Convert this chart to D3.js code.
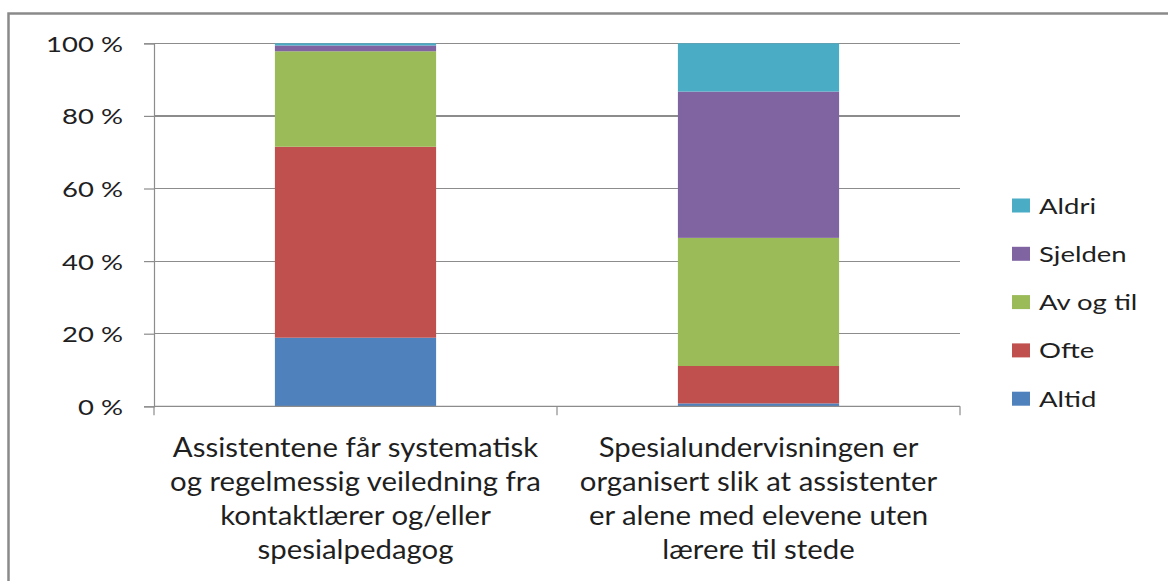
<!DOCTYPE html>
<html><head><meta charset="utf-8">
<script src="https://cdn.jsdelivr.net/npm/d3@7"></script>
<style>html,body{margin:0;padding:0;background:#fff;} svg{display:block;}</style>
</head><body>
<svg id="c" width="1168" height="581"></svg>
<script>
const categories = [
  ["Assistentene får systematisk", "og regelmessig  veiledning fra", "kontaktlærer og/eller", "spesialpedagog"],
  ["Spesialundervisningen er", "organisert slik at assistenter", "er alene med elevene uten", "lærere til stede"]
];
const seriesNames = ["Altid", "Ofte", "Av og til", "Sjelden", "Aldri"];
const seriesColors = ["#4F81BD", "#C0504D", "#9BBB59", "#8064A2", "#4BACC6"];
const altid   = [18.9, 0.8];
const ofte    = [52.6, 10.3];
const avOgTil = [26.3, 35.3];
const sjelden = [1.6, 40.3];
const aldri   = [0.6, 13.3];
const yTicks = [0, 20, 40, 60, 80, 100];
const yTickLabels = ["0 %", "20 %", "40 %", "60 %", "80 %", "100 %"];

const seriesValues = [altid, ofte, avOgTil, sjelden, aldri];
const table = categories.map((c, i) => {
  const row = {cat: i};
  seriesNames.forEach((s, j) => row[s] = seriesValues[j][i]);
  return row;
});

const svg = d3.select("#c");
const font = "Lato, 'Open Sans', sans-serif";
const textColor = "#1f1f1f";

// outer frame
svg.append("rect").attr("x", 8.5).attr("y", 13.5).attr("width", 1300).attr("height", 700)
  .attr("fill", "none").attr("stroke", "#8a8a8a").attr("stroke-width", 2.5);

const x = d3.scaleBand().domain(table.map(d => d.cat)).range([154, 960]).padding(0);
const y = d3.scaleLinear().domain([0, 100]).range([406.3, 43.3]);

// gridlines
svg.append("g").selectAll("line").data(yTicks.filter(t => t > 0)).join("line")
  .attr("x1", 154).attr("x2", 960).attr("y1", d => y(d)).attr("y2", d => y(d))
  .attr("stroke", "#8c8c8c").attr("stroke-width", 1.2).attr("shape-rendering", "crispEdges");

// y axis
const ys = 1.25;
const yAxis = d3.axisLeft(y).tickValues(yTicks).tickSize(10).tickPadding(20)
  .tickFormat((d, i) => yTickLabels[i]);
const gy = svg.append("g").attr("transform", "translate(154,0)").call(yAxis);
gy.select(".domain").attr("stroke", "#8c8c8c").attr("stroke-width", 1.2);
gy.selectAll(".tick line").attr("stroke", "#8c8c8c").attr("stroke-width", 1.2);
gy.selectAll(".tick text").attr("font-family", font).attr("font-size", 22).attr("fill", textColor)
  .attr("x", -31 / ys).attr("dy", "0.36em").attr("transform", `scale(${ys},1)`);

// stacked bars
const stack = d3.stack().keys(seriesNames)(table);
const bw = x.bandwidth() * 0.4;
svg.append("g").selectAll("g").data(stack).join("g")
  .attr("fill", (d, i) => seriesColors[i])
  .selectAll("rect").data(d => d).join("rect")
  .attr("x", d => x(d.data.cat) + (x.bandwidth() - bw) / 2)
  .attr("width", bw)
  .attr("y", d => y(d[1]))
  .attr("height", d => y(d[0]) - y(d[1]));

// x axis
const xAxisLine = svg.append("g");
xAxisLine.append("line").attr("x1", 154).attr("x2", 960).attr("y1", y(0)).attr("y2", y(0))
  .attr("stroke", "#8c8c8c").attr("stroke-width", 1.2);
const bounds = [154, ...table.map(d => x(d.cat) + x.bandwidth())];
xAxisLine.selectAll("line.tk").data(bounds).join("line").attr("class", "tk")
  .attr("x1", d => d).attr("x2", d => d).attr("y1", y(0)).attr("y2", y(0) + 9)
  .attr("stroke", "#8c8c8c").attr("stroke-width", 1.2);

// category labels
const cs = 1.13;
const cg = svg.append("g").selectAll("g").data(table).join("g")
  .attr("transform", d => `translate(${x(d.cat) + x.bandwidth() / 2}, 457) scale(${cs},1)`);
const cl = cg.append("text")
  .attr("font-family", font).attr("font-size", 26).attr("fill", textColor)
  .attr("text-anchor", "middle").attr("x", 0).attr("y", 0);
cl.selectAll("tspan").data(d => categories[d.cat]).join("tspan")
  .attr("x", 0)
  .attr("dy", (d, i) => i === 0 ? 0 : 34)
  .text(d => d);

// legend
const ls = 1.25;
const legendOrder = seriesNames.slice().reverse();
const lg = svg.append("g").selectAll("g").data(legendOrder).join("g")
  .attr("transform", (d, i) => `translate(1012, ${205.5 + i * 48.3})`);
lg.append("rect").attr("x", 0).attr("y", -7).attr("width", 18).attr("height", 14)
  .attr("fill", d => seriesColors[seriesNames.indexOf(d)]);
lg.append("text").attr("transform", `translate(27,8) scale(${ls},1)`)
  .attr("font-family", font).attr("font-size", 22)
  .attr("fill", textColor).text(d => d);
</script>
</body></html>
